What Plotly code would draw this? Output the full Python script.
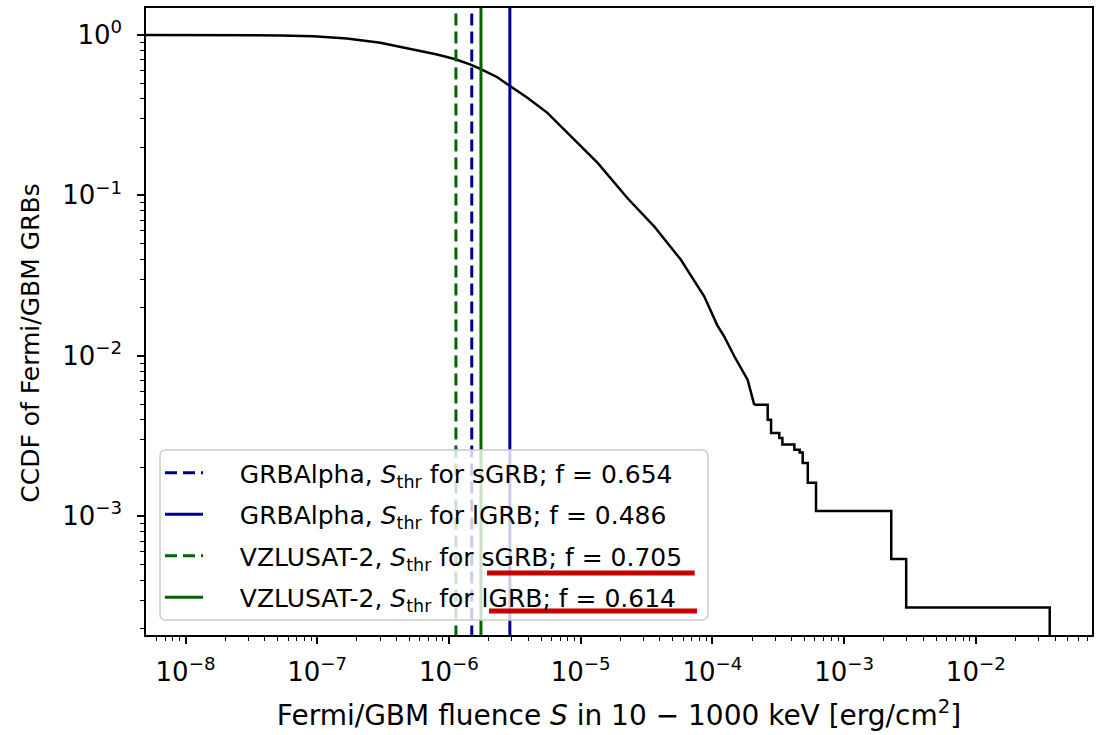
import plotly.graph_objects as go

# ---- data ----
# smooth part of the CCDF (fluence in erg/cm^2, CCDF)
fluence_main = [4.0e-9, 2.0e-8, 5.24e-8, 9.38e-8, 1.68e-7, 3.01e-7, 5.40e-7, 8.13e-7,
                1.12e-6, 1.46e-6, 1.73e-6, 2.33e-6, 2.85e-6, 3.94e-6, 5.59e-6, 7.92e-6,
                1.34e-5, 2.27e-5, 3.61e-5, 5.75e-5, 8.66e-5, 1.09e-4, 1.23e-4,
                1.47e-4, 1.65e-4, 1.85e-4, 2.08e-4]
ccdf_main = [1.0, 0.999, 0.993, 0.983, 0.951, 0.894, 0.812, 0.756,
             0.705, 0.654, 0.614, 0.545, 0.486, 0.406, 0.327, 0.245,
             0.160, 0.096, 0.0642, 0.0398, 0.0235, 0.0155, 0.0132,
             0.0099, 0.0084, 0.0071, 0.00495]
# step-like tail (value holds from x until next x)
fluence_tail = [2.08e-4, 2.63e-4, 2.79e-4, 3.22e-4, 3.40e-4, 4.19e-4, 4.60e-4,
                4.85e-4, 5.30e-4, 6.12e-4, 2.28e-3, 2.96e-3, 3.64e-2]
ccdf_tail = [0.00495, 0.0040, 0.0033, 0.00307, 0.0028, 0.0026, 0.0025,
             0.00215, 0.00162, 0.00108, 0.000541, 0.00027, 1e-6]

# thresholds
thr_names = ["GRBAlpha, <i>S</i><sub>thr</sub> for sGRB; f = 0.654",
             "GRBAlpha, <i>S</i><sub>thr</sub> for lGRB; f = 0.486",
             "VZLUSAT-2, <i>S</i><sub>thr</sub> for sGRB; f = 0.705",
             "VZLUSAT-2, <i>S</i><sub>thr</sub> for lGRB; f = 0.614"]
thr_values = [1.49e-6, 2.9e-6, 1.13e-6, 1.75e-6]
thr_colors = ["#00008b", "#00008b", "#006400", "#006400"]
thr_dash = ["dash", "solid", "dash", "solid"]

x_tickvals = [1e-8, 1e-7, 1e-6, 1e-5, 1e-4, 1e-3, 1e-2]
x_ticktext = ["10<sup>−8</sup>", "10<sup>−7</sup>", "10<sup>−6</sup>", "10<sup>−5</sup>",
              "10<sup>−4</sup>", "10<sup>−3</sup>", "10<sup>−2</sup>"]
y_tickvals = [1, 1e-1, 1e-2, 1e-3]
y_ticktext = ["10<sup>0</sup>", "10<sup>−1</sup>", "10<sup>−2</sup>", "10<sup>−3</sup>"]
y_label = "CCDF of Fermi/GBM GRBs"

fig = go.Figure()
fig.add_trace(go.Scatter(x=fluence_main, y=ccdf_main, mode="lines",
                         line=dict(color="black", width=2.5), showlegend=False))
fig.add_trace(go.Scatter(x=fluence_tail, y=ccdf_tail, mode="lines",
                         line=dict(color="black", width=2.5, shape="hv"), showlegend=False))

pad = "\u00a0" * 4
for i, (nm, v, c, d) in enumerate(zip(thr_names, thr_values, thr_colors, thr_dash)):
    fig.add_trace(go.Scatter(x=[v, v], y=[1e-6, 10], mode="lines", name=pad + nm,
                             legendgroup=f"g{i}",
                             line=dict(color=c, width=3, dash="12px,6px" if d == "dash" else "solid")))

minor_x = [m * 10.0 ** e for e in range(-9, 0) for m in range(2, 10)]
minor_y = [m * 10.0 ** e for e in range(-5, 1) for m in range(2, 10)]

fig.update_xaxes(type="log", range=[-8.30, -1.118], tickvals=x_tickvals, ticktext=x_ticktext,
                 ticks="outside", ticklen=7, tickwidth=1.5, tickcolor="black",
                 showline=True, linecolor="black", linewidth=1.5, mirror=True,
                 showgrid=False, zeroline=False, automargin=False, ticklabelstandoff=6,
                 minor=dict(tickvals=minor_x, ticks="outside", ticklen=4, tickwidth=1, tickcolor="black", showgrid=False),
                 tickfont=dict(size=26, color="black"),
                 title=dict(text="Fermi/GBM fluence <i>S</i> in 10 − 1000 keV [erg/cm<sup>2</sup>]",
                            font=dict(size=28, color="black"), standoff=19))
fig.update_yaxes(type="log", range=[-3.74, 0.168], tickvals=y_tickvals, ticktext=y_ticktext,
                 ticks="outside", ticklen=7, tickwidth=1.5, tickcolor="black",
                 showline=True, linecolor="black", linewidth=1.5, mirror=True,
                 showgrid=False, zeroline=False, automargin=False, ticklabelstandoff=10,
                 minor=dict(tickvals=minor_y, ticks="outside", ticklen=4, tickwidth=1, tickcolor="black", showgrid=False),
                 tickfont=dict(size=26, color="black"))

# y-axis label (placed as in the reference, slightly below the axes centre)
fig.add_annotation(text=y_label, textangle=-90, xref="paper", yref="paper",
                   x=-0.1216, y=0.466, xanchor="center", yanchor="middle", showarrow=False,
                   font=dict(size=25, color="black"))

# legend frame (semi-transparent white, rounded, light grey edge), drawn as a shape
lx0, lx1, ly0, ly1 = 0.0148, 0.594, 0.0239, 0.295
rx, ry = 6 / 946, 6 / 627
legend_path = (f"M {lx0+rx},{ly0} L {lx1-rx},{ly0} Q {lx1},{ly0} {lx1},{ly0+ry} "
               f"L {lx1},{ly1-ry} Q {lx1},{ly1} {lx1-rx},{ly1} L {lx0+rx},{ly1} "
               f"Q {lx0},{ly1} {lx0},{ly1-ry} L {lx0},{ly0+ry} Q {lx0},{ly0} {lx0+rx},{ly0} Z")
fig.add_shape(type="path", xref="paper", yref="paper", path=legend_path, layer="above",
              fillcolor="rgba(255,255,255,0.8)", line=dict(color="#cccccc", width=1.5))

# red underline highlights
fig.add_shape(type="line", xref="paper", yref="paper", x0=0.3605, x1=0.580, y0=0.0988, y1=0.0988,
              layer="above", line=dict(color="#c80000", width=5))
fig.add_shape(type="line", xref="paper", yref="paper", x0=0.3626, x1=0.5825, y0=0.0382, y1=0.0382,
              layer="above", line=dict(color="#c80000", width=5))

fig.update_layout(
    width=1101, height=735,
    margin=dict(l=146, r=9, t=8, b=100),
    paper_bgcolor="white", plot_bgcolor="white",
    font=dict(family="DejaVu Sans", color="black"),
    legend=dict(x=0.0148, y=0.295, xanchor="left", yanchor="top",
                bgcolor="rgba(255,255,255,0)", borderwidth=0, itemwidth=38,
                font=dict(size=25, color="black"), traceorder="grouped", tracegroupgap=6),
)

fig.write_html("out.html", post_script="document.body.style.margin='0px';",
               config={"displayModeBar": False})
